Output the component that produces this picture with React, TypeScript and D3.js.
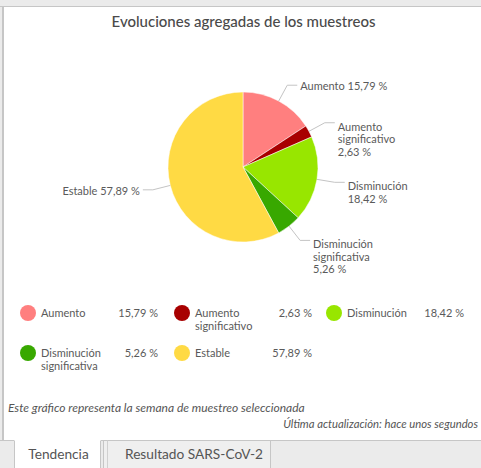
import React from "react";
import * as d3 from "d3";

const categories = ["Aumento", "Aumento significativo", "Disminución", "Disminución significativa", "Estable"];
const values = [15.79, 2.63, 18.42, 5.26, 57.89];
const colors = ["#ff7f7f", "#a80000", "#98e600", "#38a800", "#ffda44"];
const wrapPieLabel = [false, true, true, true, false];
const title = "Evoluciones agregadas de los muestreos";
const footNote = "Este gráfico representa la semana de muestreo seleccionada";
const updated = "Última actualización: hace unos segundos";
const tabs = ["Tendencia", "Resultado SARS-CoV-2"];

const W = 481;
const H = 468;
const FONT = "Lato, 'Open Sans', sans-serif";
const fmt = (v: number) => d3.format(".2f")(v).replace(".", ",") + " %";

export default function App() {
  const cx = 243, cy = 167, r = 75;
  const pie = d3.pie<number>().sort(null).value((d) => d).startAngle(0).endAngle(2 * Math.PI);
  const arcs = pie(values);
  const arc = d3.arc<d3.PieArcDatum<number>>().innerRadius(0).outerRadius(r);
  const textColor = "#5a5a5a";
  const lineColor = "#c4c4c4";

  const legendColX = [28, 182, 334];
  const legendRowY = [313, 353];

  return (
    <svg width={W} height={H} style={{ position: "absolute", left: 0, top: 0, fontFamily: FONT }}>
      {/* background */}
      <rect x={0} y={0} width={W} height={H} fill="#ebebeb" />
      <rect x={3} y={6.5} width={W} height={434} fill="#ffffff" />
      <line x1={0} x2={W} y1={6.5} y2={6.5} stroke="#c6c6c6" />
      <line x1={3} x2={3} y1={6.5} y2={441} stroke="#c6c6c6" strokeWidth={2} />
      {/* tabs */}
      <line x1={0} x2={W} y1={440.5} y2={440.5} stroke="#c6c6c6" />
      <rect x={104} y={441} width={166} height={27} fill="#efefef" />
      <line x1={103.5} x2={103.5} y1={440.5} y2={H} stroke="#c6c6c6" />
      <line x1={107.5} x2={107.5} y1={440.5} y2={H} stroke="#d0d0d0" />
      <line x1={270.5} x2={270.5} y1={440.5} y2={H} stroke="#c6c6c6" />
      <rect x={14} y={440} width={87} height={28} fill="#ffffff" />
      <line x1={14.5} x2={14.5} y1={440.5} y2={H} stroke="#c6c6c6" />
      <line x1={100.5} x2={100.5} y1={440.5} y2={H} stroke="#c6c6c6" />
      <text x={58.5} y={459} textAnchor="middle" fontSize={13.7} fill="#555">{tabs[0]}</text>
      <text x={194} y={459} textAnchor="middle" fontSize={13.7} fill="#555">{tabs[1]}</text>

      {/* title */}
      <text x={243.5} y={27} textAnchor="middle" fontSize={15} fontWeight={500} fill="#4a4a4a">{title}</text>

      {/* pie */}
      <g transform={`translate(${cx},${cy})`}>
        {arcs.map((a, i) => (
          <path key={i} d={arc(a) || ""} fill={colors[i]} stroke="#ffffff" strokeWidth={0.5} />
        ))}
      </g>
      {arcs.map((a, i) => {
        const mid = (a.startAngle + a.endAngle) / 2;
        const sx = cx + r * Math.sin(mid), sy = cy - r * Math.cos(mid);
        const er = 93;
        const ex = cx + er * Math.sin(mid), ey = cy - er * Math.cos(mid);
        const right = Math.sin(mid) >= 0;
        const hx = ex + (right ? 10 : -10);
        const tx = hx + (right ? 3 : -3);
        const lines = wrapPieLabel[i]
          ? [...categories[i].split(" "), fmt(values[i])]
          : [categories[i] + " " + fmt(values[i])];
        const by = ey + (lines.length > 1 ? 8 : 5);
        return (
          <g key={i}>
            <polyline points={`${sx},${sy} ${ex},${ey} ${hx},${ey}`} fill="none" stroke={lineColor} strokeWidth={1} />
            <text x={tx} y={by} fontSize={11} fill={textColor} textAnchor={right ? "start" : "end"}>
              {lines.map((l, j) => (
                <tspan key={j} x={tx} dy={j === 0 ? 0 : 12.5}>{l}</tspan>
              ))}
            </text>
          </g>
        );
      })}

      {/* legend */}
      {categories.map((c, i) => {
        const col = i % 3, row = Math.floor(i / 3);
        const x = legendColX[col], y = legendRowY[row];
        const lines = c.split(" ");
        return (
          <g key={i}>
            <circle cx={x} cy={y} r={8} fill={colors[i]} />
            <text x={x + 13} y={y + 4} fontSize={11} fill={textColor}>
              {lines.map((l, j) => (
                <tspan key={j} x={x + 13} dy={j === 0 ? 0 : 12.5}>{l}</tspan>
              ))}
            </text>
            <text x={x + 130} y={y + 4} fontSize={11} fill={textColor} textAnchor="end">{fmt(values[i])}</text>
          </g>
        );
      })}

      {/* footer */}
      <text x={8} y={412} fontSize={12} fontStyle="italic" fill="#555">{footNote}</text>
      <text x={478} y={428} fontSize={11.3} fontStyle="italic" fill="#555" textAnchor="end">{updated}</text>
    </svg>
  );
}
